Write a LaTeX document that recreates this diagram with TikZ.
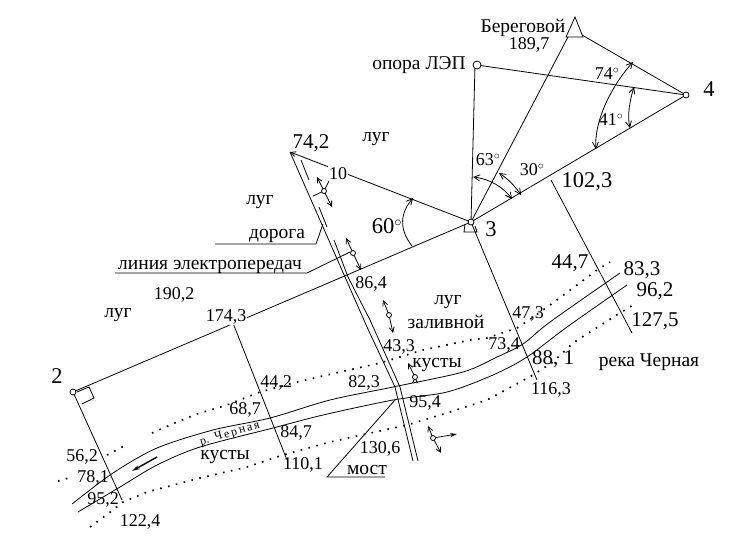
\documentclass[tikz,border=0pt]{standalone}
\usepackage{fontspec}
\setmainfont{Liberation Serif}
\usetikzlibrary{arrows.meta}

\tikzset{
 txt/.style={inner sep=0pt, yshift=-1.5pt, font=\fontsize{18}{20}\selectfont},
 cyr/.style={inner sep=0pt, yshift=-2.5pt, font=\fontsize{19.5}{22}\selectfont},
 big/.style={inner sep=0pt, yshift=-1.5pt, font=\fontsize{22.5}{24}\selectfont},
 mid/.style={inner sep=0pt, yshift=-1.5pt, font=\fontsize{21}{23}\selectfont},
 blank/.style={fill=white, inner sep=1pt},
 pnt/.style={circle, draw, fill=white, inner sep=0pt, minimum size=6pt},
 leg/.style={line width=0.8pt},
 bank/.style={line width=0.8pt},
 angarc/.style={line width=0.8pt, {Straight Barb[length=6pt,width=6pt]}-{Straight Barb[length=6pt,width=6pt]}},
 tick/.style={line width=0.8pt, -{Straight Barb[length=5pt,width=5pt]}},
 bush/.style={line width=1.7pt, dash pattern=on 1.6pt off 6.5pt}
}

\begin{document}
\begin{tikzpicture}[x=1pt, y=-1pt, line width=0.8pt]
\useasboundingbox (0,0) rectangle (739,542);

% survey points
\coordinate (p2) at (73,392);
\coordinate (p3) at (471,222);
\coordinate (p4) at (686,95);
\coordinate (top) at (575,37);
\coordinate (pole) at (477,65);
\coordinate (tip) at (290,152);

% traverse
\draw[leg] (p2) -- (p3) -- (p4);
\draw[leg] (p3) -- (568,37);
\draw[leg] (p3) -- (475,65);
\draw[leg] (pole) -- (p4);
\draw[leg] (582,35) -- (p4);
\draw[leg, -{Straight Barb[length=5pt,width=5pt]}] (p3) -- (tip);
\draw[leg] (566,37) -- (575,17) -- (583,37) -- cycle;
\draw[leg] (465,224) -- (464,232) -- (477,232) -- (475,226);
\draw[leg] (77,392) -- (89,387) -- (94,398) -- (82,404);

% offsets
\draw[leg] (p2) -- (122,500);
\draw[leg] (233,323) -- (287,460);
\draw[leg] (p3) -- (537,380);
\draw[leg] (551,180) -- (632,333);

% road
\draw[leg] (tip) -- (367,327) -- (395,387) -- (413,461);
\draw[leg] (301,160) -- (309,180);
\draw[leg] (319,207) -- (327,227);
\draw[leg] (334,240) -- (348,277);
\draw[leg] (348,277) -- (370,320) -- (400,387) -- (418,461);

% river banks
\draw[bank] plot[smooth, tension=0.5] coordinates {(72,504) (113,473) (157,448) (213,430) (270,418) (330,400)
 (393,387) (463,372) (497,357) (523,344) (550,322) (620,273)};
\draw[bank] plot[smooth, tension=0.5] coordinates {(78,512) (120,487) (157,465) (200,447) (273,428) (323,415)
 (393,400) (447,392) (493,375) (527,357) (567,327) (627,285)};
\draw[line width=1.4pt, -{Stealth[length=8pt,width=4pt]}] (157,457) -- (132,471);

% bushes
\draw[bush] (58,481) -- (72,477);
\draw[bush] (107,455) -- (128,444);
\draw[bush] (152,433) -- (177,422) -- (197,414) -- (227,405) -- (260,392)
 -- (293,383) -- (340,372) -- (380,363) -- (423,350) -- (470,340) -- (487,338) -- (517,328)
 -- (532,318) -- (550,305) -- (573,288) -- (597,270) -- (610,262);
\draw[bush] (90,527) -- (113,510) -- (123,502) -- (147,492) -- (200,478) -- (247,467) -- (283,455)
 -- (330,442) -- (407,425) -- (447,413) -- (487,400) -- (533,375) -- (553,362) -- (573,343)
 -- (593,330) -- (620,313) -- (633,305);

% bridge and leaders
\draw[leg] (385,477) -- (327,477) -- (395,400);
\draw[leg] (215,244) -- (316,244) -- (323,224);
\draw[leg] (115,273) -- (307,273) -- (350,252);
\draw[leg] (313,196) -- (324,191) -- (330,179) -- (347,179);

% angles
\draw[angarc] (473,177) .. controls (490,179) and (503,187) .. (512,199);
\draw[angarc] (499,173) .. controls (508,179) and (515,186) .. (521,195);
\draw[angarc] (596,149) .. controls (594,125) and (608,90) .. (633,62);
\draw[angarc] (630,128) .. controls (627,115) and (630,100) .. (634,87);
\draw[leg, -{Straight Barb[length=6pt,width=6pt]}] (412,246) .. controls (398,228) and (401,212) .. (413,198);

% orientation marks
\foreach \name/\x/\y/\ax/\ay/\bx/\by in {mA/324/191/317/177/332/207, mB/353/253/346/238/361/270,
  mC/389/315/383/300/393/333, mD/415/377/408/363/415/377, mE/433/438/428/426/441/453}
 {
 \draw[tick] (\x,\y) -- (\ax,\ay);
 \draw[tick] (\x,\y) -- (\bx,\by);
 \node[pnt, minimum size=5pt] (\name) at (\x,\y) {};
 }
\draw[line width=0.8pt, -{Stealth[length=7pt,width=4pt]}] (mE) -- (457,434);

\node[pnt] (pt2) at (p2) {};
\node[pnt] (pt3) at (p3) {};
\node[pnt] (pt4) at (p4) {};
\node[pnt, minimum width=8pt, minimum height=6pt] (ptpole) at (pole) {};

% labels
\foreach \name/\x/\y/\t in {l1897/529/43/{189,7},
  l74d/607/72/{74$^\circ$}, l41d/611/118/{41$^\circ$}, l63d/488/158/{63$^\circ$}, l30d/532/168/{30$^\circ$},
  l1902/174/293/{190,2}, l864/371/282/{86,4},
  l473/528/312/{47,3},
  l734/504/343/{73,4}, l433/399/345/{43,3},
  l823/364/381/{82,3}, l442/276/381/{44,2}, l687/245/408/{68,7}, l954/425/401/{95,4},
  l1163/551/388/{116,3}, l847/296/431/{84,7}, l1101/303/463/{110,1},
  l1306/380/447/{130,6}, l562/82/455/{56,2}, l781/93/476/{78,1},
  l952/103/498/{95,2}, l1224/140/520/{122,4}}
 {
 \node[txt] (\name) at (\x,\y) {\t};
 }
\foreach \name/\x/\y/\t in {lBer/523/25/{Береговой}, lPole/419/63/{опора ЛЭП},
  lLugA/376/137/{луг}, lLugB/260/200/{луг}, lRoad/277/233/{дорога}, lLine/210/264/{линия электропередач},
  lLugC/118/313/{луг}, lLugD/448/300/{луг}, lZal/446/319/{заливной}, lRiver/649/360/{река Черная},
  lBushA/437/363/{кусты}, lBushB/225/454/{кусты}, lBridge/367/467/{мост}}
 {
 \node[cyr] (\name) at (\x,\y) {\t};
 }
\foreach \name/\x/\y/\t in {lTwo/57/375/2, lThree/491/228/3, lFour/709/88/4, l1023/587/180/{102,3}, l60d/387/225/{60$^\circ$}}
 {
 \node[big] (\name) at (\x,\y) {\t};
 }
\foreach \name/\x/\y/\t in {l742/311/142/{74,2}, l447/570/262/{44,7}, l833/642/269/{83,3}, l962/655/290/{96,2},
  l1275/655/320/{127,5}, l881/553/358/{88, 1}}
 {
 \node[mid] (\name) at (\x,\y) {\t};
 }
\node[txt, blank] (l1743) at (226,315) {174,3};
\node[txt, blank] (lTen) at (338,172) {10};
\node[inner sep=0pt, font=\fontsize{12}{13}\selectfont, rotate=16] (lName) at (230,434) {р.\ \ Ч\,е\,р\,н\,а\,я};

\end{tikzpicture}
\end{document}
